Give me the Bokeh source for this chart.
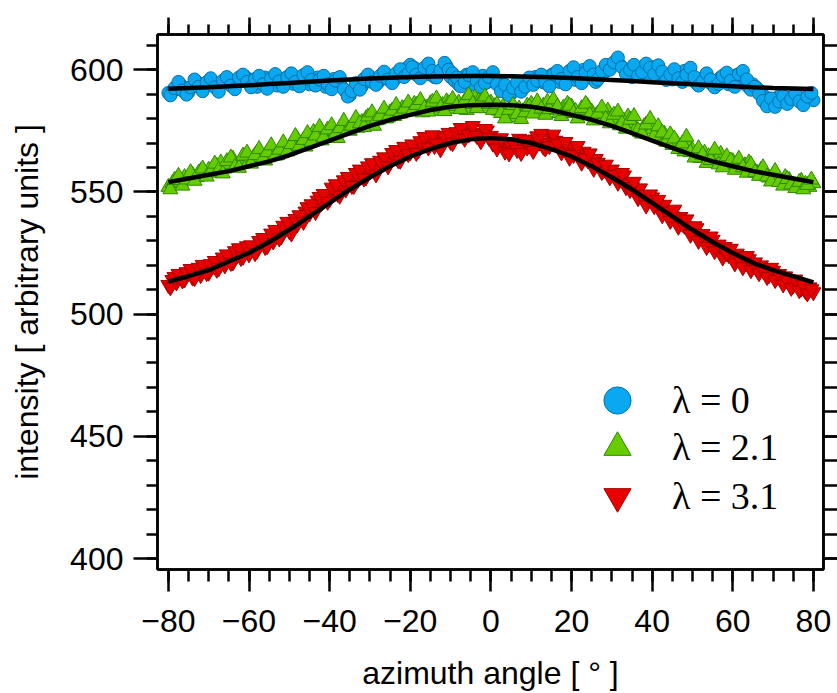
from bokeh.plotting import figure
from bokeh.models import (SingleIntervalTicker, LinearAxis, Legend, LegendItem,
                          Range1d)
from bokeh.embed import file_html
from bokeh.resources import INLINE

# ---------------- data ----------------
angle = list(range(-80, 81))                 # azimuth angle [deg], whole degrees
angle_half = [a + 0.5 for a in range(-80, 80)]  # half-degree positions

blue = [590.5, 591.0, 593.0, 594.0, 592.0, 590.8, 593.5, 595.0, 594.2, 593.0,
        595.3, 594.0, 592.5, 594.6, 596.0, 595.2, 593.8, 594.5, 596.3, 597.2,
        596.0, 594.5, 593.0, 595.0, 596.8, 595.5, 594.0, 593.5, 595.8, 596.5,
        595.0, 594.2, 596.0, 597.0, 595.6, 594.0, 595.2, 596.8, 594.5, 593.0,
        594.5, 596.2, 595.0, 593.0, 591.0, 589.5, 592.0, 594.0, 593.2, 595.5,
        597.0, 596.0, 594.8, 596.5, 598.0, 597.2, 595.8, 597.5, 599.0, 600.5,
        602.0, 600.8, 599.0, 598.2, 599.6, 598.0, 597.0, 598.8, 600.2, 601.5,
        597.0, 595.5, 594.0, 596.8, 598.0, 595.2, 593.8, 596.0, 597.5, 594.8,
        597.5, 595.5, 594.0, 592.5, 591.0, 590.2, 592.0, 593.5, 595.0, 594.0,
        595.6, 597.0, 596.2, 594.8, 596.5, 597.8, 596.0, 595.0, 597.2, 598.5,
        597.0, 595.8, 597.5, 600.0, 599.0, 596.5, 595.0, 597.0, 598.8, 600.2,
        601.5, 603.5, 602.0, 600.5, 598.5, 597.0, 598.8, 600.5, 599.2, 597.8,
        601.0, 600.0, 598.0, 596.5, 597.8, 596.0, 597.2, 598.5, 599.5, 597.5,
        595.8, 594.5, 596.0, 597.2, 595.0, 593.8, 595.5, 596.8, 595.2, 594.0,
        596.5, 597.8, 596.0, 594.2, 592.8, 594.0, 592.5, 590.8, 589.0, 588.0,
        586.5, 588.5, 590.0, 588.8, 587.5, 589.0, 588.2, 586.8, 588.5, 589.5, 587.5]
blue_half = [589.5, 592.5, 595.0, 591.5, 589.8, 592.8, 596.0, 593.0, 591.2, 594.8,
             596.5, 592.8, 591.0, 595.5, 597.0, 593.5, 592.0, 596.8, 598.0, 595.0,
             592.8, 596.2, 597.5, 594.0, 592.2, 596.5, 598.2, 595.2, 593.0, 597.0,
             598.5, 595.0, 593.2, 597.8, 599.0, 595.8, 593.5, 596.0, 597.5, 594.0,
             592.0, 595.5, 597.0, 592.0, 589.0, 591.2, 594.5, 591.8, 596.2, 598.0,
             595.0, 593.8, 597.5, 599.2, 596.0, 594.5, 598.5, 600.2, 597.0, 598.5,
             601.0, 598.0, 596.5, 600.8, 602.5, 599.5, 596.8, 599.8, 602.8, 600.0,
             598.5, 596.8, 593.2, 595.0, 597.8, 599.0, 595.5, 592.8, 594.5, 597.0,
             599.0, 594.0, 591.2, 593.8, 589.5, 592.5, 594.8, 591.0, 593.0, 596.8,
             593.8, 595.5, 598.0, 595.0, 593.2, 598.2, 599.5, 596.2, 594.0, 599.5,
             601.0, 597.0, 594.5, 598.8, 601.5, 598.0, 596.0, 599.5, 602.0, 600.0,
             603.0, 605.0, 601.0, 598.2, 600.0, 602.0, 597.5, 599.0, 602.5, 600.8,
             598.2, 601.8, 599.2, 595.8, 598.0, 600.2, 596.5, 595.0, 598.0, 600.8,
             597.0, 593.5, 595.2, 598.5, 596.0, 592.8, 594.2, 597.5, 598.8, 595.5,
             593.0, 598.2, 599.5, 596.0, 591.8, 593.0, 590.2, 587.2, 585.0, 588.2,
             584.8, 587.0, 589.2, 586.0, 588.0, 590.2, 587.0, 585.5, 589.0, 590.5]

green = [552.0, 553.5, 555.0, 553.8, 556.0, 555.2, 557.0, 556.0, 558.5, 557.2,
         559.0, 557.8, 560.5, 562.0, 559.5, 561.2, 563.5, 561.0, 562.8, 564.5,
         562.5, 563.8, 566.0, 564.2, 562.8, 565.5, 567.0, 565.0, 566.8, 568.2,
         567.0, 569.0, 571.5, 570.0, 568.5, 572.0, 574.5, 572.8, 571.0, 573.5,
         575.0, 573.2, 572.0, 574.8, 576.5, 575.0, 577.8, 576.2, 578.5, 580.0,
         578.2, 577.0, 579.5, 581.2, 580.0, 582.5, 581.0, 583.0, 584.2, 582.8,
         584.8, 586.0, 583.8, 582.5, 584.5, 586.2, 585.0, 583.2, 585.5, 587.0,
         585.8, 584.0, 586.5, 585.0, 583.5, 586.0, 588.5, 587.2, 585.5, 584.2,
         586.5, 585.0, 583.2, 584.8, 582.0, 580.5, 582.8, 584.0, 583.0, 585.2,
         586.0, 584.5, 583.0, 585.2, 586.8, 585.0, 583.5, 582.2, 584.5, 586.0,
         584.8, 583.0, 581.5, 583.5, 585.0, 582.8, 581.0, 579.5, 581.8, 583.2,
         580.5, 578.8, 577.2, 579.0, 580.8, 578.0, 576.0, 574.5, 576.8, 578.2,
         575.5, 573.2, 572.0, 573.8, 571.0, 569.2, 570.5, 568.0, 566.5, 568.8,
         567.0, 565.2, 563.8, 566.0, 564.5, 562.5, 563.8, 565.5, 562.0, 560.8,
         562.5, 561.0, 559.2, 560.8, 562.0, 559.5, 557.8, 559.0, 557.5, 555.8,
         557.0, 555.5, 554.2, 556.0, 554.8, 553.0, 552.2, 554.5, 553.2, 552.0, 553.5]
green_half = [551.0, 554.8, 556.5, 552.5, 555.0, 558.0, 554.5, 557.8, 559.5, 556.2,
              558.2, 561.5, 559.0, 557.5, 562.5, 564.0, 560.2, 559.8, 564.8, 566.0,
              561.5, 565.0, 567.5, 563.5, 566.2, 569.0, 564.8, 567.2, 570.2, 566.5,
              569.5, 572.8, 568.8, 571.2, 574.0, 570.5, 573.0, 576.5, 572.2, 575.5,
              577.2, 573.8, 576.0, 579.0, 575.2, 577.0, 580.2, 578.0, 576.5, 580.8,
              582.5, 579.2, 581.0, 584.0, 580.5, 583.2, 585.5, 582.0, 584.0, 586.5,
              583.0, 585.5, 587.5, 584.2, 582.8, 586.8, 588.2, 584.5, 583.0, 586.2,
              588.0, 585.2, 583.8, 587.2, 589.5, 586.0, 584.2, 587.0, 589.0, 586.0,
              583.5, 585.8, 582.2, 580.0, 583.5, 585.5, 581.8, 579.8, 582.5, 584.8,
              582.0, 587.0, 584.0, 581.5, 583.8, 587.8, 584.8, 581.0, 583.0, 585.2,
              582.2, 580.0, 584.2, 586.0, 581.5, 579.2, 582.0, 584.5, 579.8, 578.0,
              581.5, 582.8, 578.0, 575.8, 579.5, 581.0, 575.2, 573.8, 577.5, 579.8,
              573.0, 576.8, 574.2, 570.5, 573.5, 571.8, 567.5, 569.8, 572.5, 566.2,
              564.0, 567.8, 565.2, 561.8, 563.0, 567.2, 561.2, 560.0, 564.5, 562.8,
              559.0, 563.5, 560.0, 557.8, 561.2, 558.0, 556.5, 560.0, 556.2, 554.2,
              558.5, 554.0, 552.5, 555.2, 553.0, 551.5, 554.0, 551.0, 552.8, 555.0]

red = [512.0, 514.0, 513.0, 515.5, 514.2, 516.8, 515.0, 517.5, 516.0, 518.2,
       517.0, 519.5, 518.2, 521.0, 520.0, 522.5, 521.2, 524.0, 523.0, 525.5,
       524.5, 527.0, 526.0, 528.8, 527.5, 530.5, 529.8, 532.5, 531.8, 534.8,
       534.0, 537.5, 536.8, 539.8, 542.0, 541.2, 544.0, 546.5, 545.5, 548.8,
       547.0, 550.5, 549.2, 552.0, 551.0, 553.8, 552.5, 555.0, 557.2, 556.0,
       558.5, 560.2, 559.0, 561.5, 563.0, 562.2, 564.5, 563.0, 566.0, 567.5,
       566.2, 568.5, 567.0, 569.2, 571.0, 570.2, 568.8, 571.5, 573.0, 571.8,
       570.5, 572.8, 574.2, 573.0, 575.0, 576.0, 574.2, 572.5, 573.8, 575.2,
       573.0, 571.5, 570.2, 569.0, 567.5, 568.8, 570.5, 571.8, 569.5, 568.2,
       569.8, 571.5, 570.2, 568.5, 570.0, 572.0, 571.0, 569.2, 567.8, 566.5,
       568.0, 566.2, 564.8, 566.5, 563.0, 561.8, 563.5, 560.5, 559.0, 557.8,
       559.2, 556.5, 555.0, 556.8, 553.2, 552.0, 549.8, 551.5, 548.0, 546.8,
       547.8, 545.0, 543.5, 544.8, 541.2, 540.0, 538.5, 539.8, 536.2, 535.0,
       533.8, 535.2, 531.5, 530.2, 528.8, 530.5, 527.2, 526.0, 527.5, 524.2,
       523.0, 524.8, 522.2, 521.0, 522.5, 519.5, 518.2, 520.0, 517.5, 516.0,
       517.8, 515.2, 514.0, 515.5, 513.0, 511.8, 512.8, 510.5, 509.5, 511.0, 509.0]
red_half = [511.0, 515.2, 516.5, 513.8, 517.2, 518.5, 514.8, 519.0, 520.2, 516.8,
            520.5, 521.8, 518.8, 523.2, 524.5, 521.0, 525.8, 527.0, 523.5, 527.8,
            528.2, 525.0, 530.0, 531.2, 527.8, 533.0, 534.5, 531.0, 536.2, 537.8,
            533.0, 539.0, 540.5, 537.8, 543.8, 545.0, 541.8, 548.0, 549.2, 546.0,
            551.8, 553.2, 548.5, 554.8, 556.2, 552.5, 557.8, 559.2, 555.5, 560.5,
            561.8, 557.2, 562.8, 564.2, 560.5, 566.0, 567.2, 562.8, 568.5, 565.5,
            569.5, 566.0, 570.8, 572.5, 568.2, 573.2, 569.8, 567.5, 572.8, 574.2,
            570.0, 574.5, 576.2, 571.8, 573.5, 577.0, 573.0, 570.8, 575.8, 572.2,
            569.8, 567.8, 572.0, 566.5, 565.8, 570.2, 567.2, 566.0, 571.2, 569.0,
            566.8, 572.8, 573.8, 567.8, 568.8, 573.5, 569.8, 566.2, 570.5, 564.0,
            565.2, 568.8, 562.0, 564.0, 565.8, 559.5, 562.0, 558.2, 561.2, 556.0,
            557.0, 553.8, 557.8, 552.0, 550.8, 554.2, 547.5, 548.8, 544.5, 549.0,
            544.2, 546.8, 540.5, 542.0, 538.2, 542.8, 535.8, 537.0, 538.8, 532.5,
            536.0, 530.0, 532.8, 527.5, 531.8, 525.8, 528.5, 523.2, 525.0, 526.8,
            520.8, 523.5, 519.2, 523.8, 518.0, 521.2, 516.8, 518.0, 515.2, 519.0,
            514.0, 516.5, 512.2, 513.8, 510.8, 514.2, 509.8, 512.0, 508.5, 510.2]

fit_angle = list(range(-80, 81, 5))
fit_blue = [592.2, 592.5, 592.8, 593.2, 593.6, 594.1, 594.6, 595.1, 595.6, 596.0,
            596.4, 596.7, 597.0, 597.2, 597.3, 597.4, 597.4, 597.3, 597.1, 596.9,
            596.6, 596.2, 595.8, 595.4, 594.9, 594.5, 594.0, 593.6, 593.2, 592.8,
            592.5, 592.3, 592.1]
fit_green = [554.0, 555.5, 557.0, 558.5, 560.5, 562.5, 565.0, 568.0, 571.0, 574.0,
             577.0, 579.5, 581.5, 583.5, 584.8, 585.5, 585.7, 585.5, 584.8, 583.5,
             581.5, 579.5, 577.0, 574.0, 571.0, 568.0, 565.0, 562.5, 560.5, 558.5,
             557.0, 555.5, 554.0]
fit_red = [513.3, 515.5, 518.0, 521.5, 525.0, 529.5, 534.5, 540.0, 545.5, 551.0,
           556.0, 560.5, 564.5, 567.5, 570.0, 571.5, 572.0, 571.5, 570.0, 567.5,
           564.5, 560.5, 556.0, 551.0, 545.5, 540.0, 534.5, 529.5, 525.0, 521.0,
           518.0, 515.5, 513.0]

labels = ["\u03bb = 0", "\u03bb = 2.1", "\u03bb = 3.1"]
x_ticks_labels = {-80: "\u221280", -60: "\u221260", -40: "\u221240", -20: "\u221220",
                  0: "0", 20: "20", 40: "40", 60: "60", 80: "80"}

# ---------------- figure ----------------
p = figure(width=837, height=693,
           x_range=Range1d(-82.7, 82.5), y_range=Range1d(395.5, 614.4),
           output_backend="svg", toolbar_location=None,
           x_axis_location=None, y_axis_location=None,
           min_border_left=157, min_border_right=14, min_border_top=34,
           min_border_bottom=122)
p.grid.visible = False
p.outline_line_color = "black"
p.outline_line_width = 2.5
p.background_fill_color = "white"
p.border_fill_color = "white"

FONT = "Liberation Sans"


def style_axis(ax, major_out, minor_out, show_labels):
    ax.axis_line_color = "black"
    ax.axis_line_width = 2.5
    ax.major_tick_line_width = 2.5
    ax.minor_tick_line_width = 2.5
    ax.major_tick_line_color = "black"
    ax.minor_tick_line_color = "black"
    ax.major_tick_in = 0
    ax.minor_tick_in = 0
    ax.major_tick_out = major_out
    ax.minor_tick_out = minor_out
    if show_labels:
        ax.major_label_text_font = FONT
        ax.major_label_text_font_size = "32px"
        ax.major_label_text_color = "black"
        ax.axis_label_text_font = FONT
        ax.axis_label_text_font_size = "32px"
        ax.axis_label_text_font_style = "normal"
        ax.axis_label_text_color = "black"
    else:
        ax.major_label_text_font_size = "1px"
        ax.major_label_text_color = None
        ax.major_label_standoff = 0


xb = LinearAxis(ticker=SingleIntervalTicker(interval=20, num_minor_ticks=4),
                axis_label="azimuth angle [ \u00b0 ]")
style_axis(xb, 22, 12, True)
xb.major_label_overrides = x_ticks_labels
xb.major_label_standoff = 18
xb.axis_label_standoff = 20
p.add_layout(xb, "below")

xt = LinearAxis(ticker=SingleIntervalTicker(interval=20, num_minor_ticks=4))
style_axis(xt, 17, 10, False)
p.add_layout(xt, "above")

yl = LinearAxis(ticker=SingleIntervalTicker(interval=50, num_minor_ticks=5),
                axis_label="intensity [ arbitrary units ]")
style_axis(yl, 24, 11, True)
yl.major_label_standoff = 10
yl.axis_label_standoff = 22
p.add_layout(yl, "left")

yr = LinearAxis(ticker=SingleIntervalTicker(interval=50, num_minor_ticks=5))
style_axis(yr, 14, 14, False)
p.add_layout(yr, "right")

# ---------------- data marks ----------------
rb = p.scatter(angle + angle_half, blue + blue_half, marker="circle", size=13,
               fill_color="#0AA8F0", line_color="#0570A8", line_width=1)
rg = p.scatter(angle + angle_half, green + green_half, marker="triangle", size=15,
               fill_color="#66CC00", line_color="#2E8A00", line_width=1)
rr = p.scatter(angle + angle_half, red + red_half, marker="inverted_triangle", size=15,
               fill_color="#E80000", line_color="#A80000", line_width=1)

for fy in (fit_blue, fit_green, fit_red):
    p.line(fit_angle, fy, line_color="black", line_width=4.5)

# one legend box per entry, so that rows can sit closer than the glyph box
legend_rows = [(rb, labels[0], 135), (rg, labels[1], 88), (rr, labels[2], 39)]
for rend, lab, yoff in legend_rows:
    lg = Legend(items=[LegendItem(label=lab, renderers=[rend])],
                location=(426, yoff), glyph_width=68, glyph_height=68,
                label_height=68, spacing=0, label_standoff=21,
                padding=0, margin=0, border_line_color=None,
                background_fill_alpha=0,
                label_text_font="Liberation Serif", label_text_font_size="38px",
                label_text_color="black")
    p.add_layout(lg)

open("out.html", "w").write(file_html(p, INLINE))
